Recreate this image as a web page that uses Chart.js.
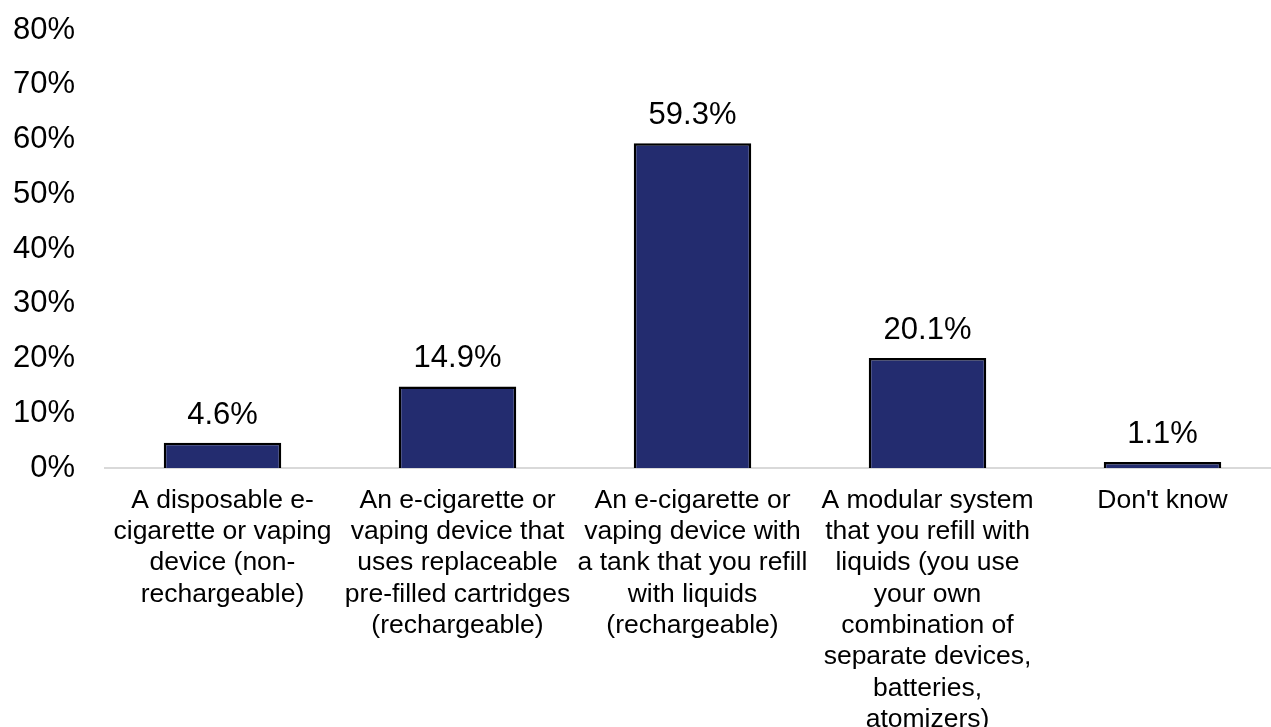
<!DOCTYPE html>
<html lang="en">
<head>
  <meta charset="UTF-8">
  <title>E-cigarette device types</title>
  <style>
    html, body {
      margin: 0;
      padding: 0;
      background: #ffffff;
      overflow: hidden;
    }
    .wrap {
      width: 1290px;
      height: 742px;
    }
  </style>
</head>
<body>
  <div class="wrap">
    <canvas id="deviceChart" width="1290" height="742"></canvas>
  </div>

  <script src="https://cdn.jsdelivr.net/npm/chart.js"></script>
  <script>
    // categories (pre-wrapped as in the source chart)
    const categories = [
      ['A disposable e-', 'cigarette or vaping', 'device (non-', 'rechargeable)'],
      ['An e-cigarette or', 'vaping device that', 'uses replaceable', 'pre-filled cartridges', '(rechargeable)'],
      ['An e-cigarette or', 'vaping device with', 'a tank that you refill', 'with liquids', '(rechargeable)'],
      ['A modular system', 'that you refill with', 'liquids (you use', 'your own', 'combination of', 'separate devices,', 'batteries,', 'atomizers)'],
      ["Don't know"]
    ];
    const shares = [4.6, 14.9, 59.3, 20.1, 1.1];
    const yTicks = [0, 10, 20, 30, 40, 50, 60, 70, 80];

    const fontFamily = "Arial, 'Liberation Sans', sans-serif";

    // write the value above each bar
    const valueLabels = {
      id: 'valueLabels',
      afterDatasetsDraw(chart) {
        const ctx = chart.ctx;
        const meta = chart.getDatasetMeta(0);
        ctx.save();
        ctx.font = '31px ' + fontFamily;
        ctx.fillStyle = '#000000';
        ctx.textAlign = 'center';
        ctx.textBaseline = 'alphabetic';
        meta.data.forEach((bar, i) => {
          ctx.fillText(shares[i].toFixed(1) + '%', bar.x, bar.y - 19);
        });
        ctx.restore();
      }
    };

    const ctx = document.getElementById('deviceChart').getContext('2d');
    new Chart(ctx, {
      type: 'bar',
      data: {
        labels: categories,
        datasets: [{
          data: shares,
          backgroundColor: '#232c6f',
          borderColor: '#000000',
          borderWidth: 2.5,
          barPercentage: 0.5,
          categoryPercentage: 1.0
        }]
      },
      options: {
        responsive: false,
        animation: false,
        layout: {
          padding: { left: 12, right: 10, top: 30, bottom: 0 }
        },
        plugins: {
          legend: { display: false },
          tooltip: { enabled: false }
        },
        scales: {
          x: {
            grid: { display: false, drawTicks: false },
            border: { display: true, color: '#d9d9d9', width: 2 },
            ticks: {
              color: '#000000',
              autoSkip: false,
              maxRotation: 0,
              minRotation: 0,
              padding: 17,
              font: { family: fontFamily, size: 26.5, lineHeight: 1.18 }
            },
            afterFit(scale) {
              scale.paddingLeft = 0;
              scale.paddingRight = 0;
              scale.height = 274;
            }
          },
          y: {
            min: 0,
            max: 80,
            afterBuildTicks(scale) {
              scale.ticks = yTicks.map(v => ({ value: v }));
            },
            grid: { display: false, drawTicks: false },
            border: { display: false },
            ticks: {
              color: '#000000',
              padding: 30,
              font: { family: fontFamily, size: 31 },
              callback: v => v + '%'
            },
            afterFit(scale) {
              scale.paddingTop = 0;
              scale.paddingBottom = 0;
              scale.width = 93;
            }
          }
        }
      },
      plugins: [valueLabels]
    });
  </script>
</body>
</html>
